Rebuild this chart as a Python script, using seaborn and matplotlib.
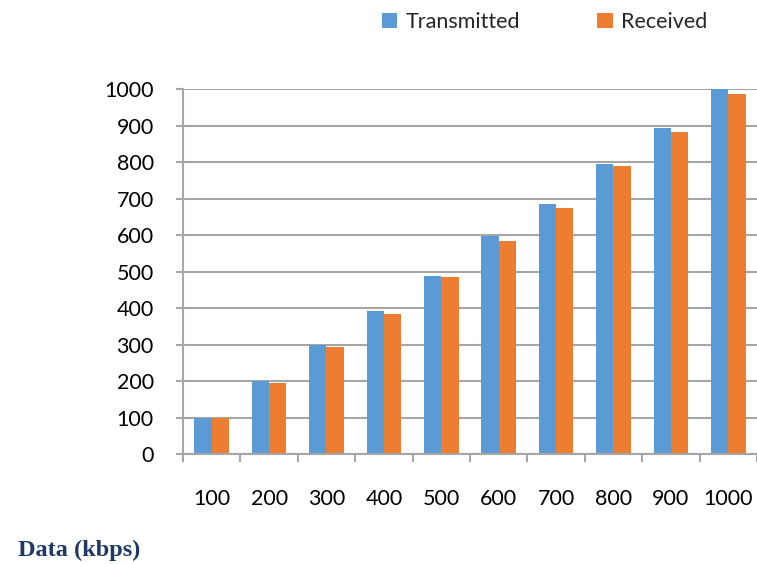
import pandas as pd
import numpy as np
import matplotlib.pyplot as plt
import seaborn as sns

sns.set_theme(style="white")
plt.rcParams['font.family'] = ['Lato', 'DejaVu Sans']

data_rates = ["100", "200", "300", "400", "500", "600", "700", "800", "900", "1000"]
transmitted = [100, 200, 299, 392, 488, 597, 685, 794, 893, 1000]
received = [99, 194, 293, 383, 485, 583, 674, 789, 882, 986]

df = pd.DataFrame({
    'Data': data_rates * 2,
    'Value': transmitted + received,
    'Series': ['Transmitted'] * len(data_rates) + ['Received'] * len(data_rates),
})

fig = plt.figure(figsize=(7.57, 5.64), dpi=100)
ax = fig.add_axes([0.2417, 0.195, 0.7583, 0.647])

sns.barplot(
    data=df, x='Data', y='Value', hue='Series',
    palette=['#5B9BD5', '#ED7D31'], width=0.6, saturation=1,
    linewidth=0, edgecolor='none', ax=ax, legend=True
)

ax.set_ylim(0, 1000)
ax.set_xlim(-0.5, len(data_rates) - 0.5)
ax.set_yticks(np.arange(0, 1001, 100))
ax.yaxis.grid(True, color='#A6A6A6', linewidth=1.5)
ax.set_axisbelow(True)
for s in ['top', 'right']:
    ax.spines[s].set_visible(False)
ax.spines['left'].set_color('#A6A6A6')
ax.spines['left'].set_linewidth(1.5)
ax.spines['bottom'].set_color('#A6A6A6')
ax.spines['bottom'].set_linewidth(1.5)

# category boundary ticks on x, labels far below
ax.set_xticks(np.arange(-0.5, len(data_rates), 1), minor=True)
ax.tick_params(axis='x', which='minor', length=6, color='#A6A6A6', width=1.5, bottom=True)
ax.tick_params(axis='x', which='major', length=0, pad=25, labelsize=15.5, labelcolor='black')
ax.tick_params(axis='y', length=5, color='#A6A6A6', width=1.5, left=True, pad=16,
               labelsize=15.5, labelcolor='black')
ax.set_xlabel('')
ax.set_ylabel('')

leg = ax.legend(loc='center', bbox_to_anchor=(0.63, 1.183), ncol=2, frameon=False,
                fontsize=15.5, handlelength=0.7, handleheight=0.7, handletextpad=0.4,
                columnspacing=3.6)

fig.text(0.024, 0.015, 'Data (kbps)', fontsize=17.5, fontweight='bold',
         family='Liberation Serif', color='#1F3864')

plt.savefig('out.png', dpi=100)
